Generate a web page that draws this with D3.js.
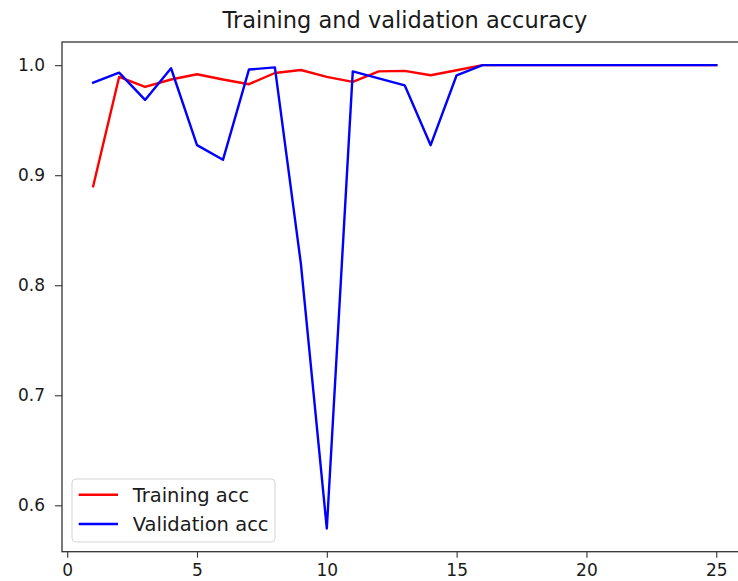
<!DOCTYPE html>
<html>
<head>
<meta charset="utf-8">
<script src="https://cdn.jsdelivr.net/npm/d3@7"></script>
<style>
	body { margin: 0; background: #fff; }
	svg { display: block; overflow: hidden; }
	text { font-family: "DejaVu Sans", sans-serif; fill: #1a1a1a; }
</style>
</head>
<body>
<svg id="chart" width="738" height="581"></svg>
<script>
	// epochs 1..25
	const epochs = d3.range(1, 26);
	const trainAcc = [0.890, 0.9893, 0.9802, 0.9870, 0.9917, 0.9870, 0.9827, 0.9929, 0.9956, 0.9893,
		0.9848, 0.9944, 0.9948, 0.9908, 0.9954, 1.0, 1.0, 1.0, 1.0, 1.0,
		1.0, 1.0, 1.0, 1.0, 1.0];
	const valAcc = [0.9841, 0.9932, 0.9684, 0.9972, 0.9273, 0.9140, 0.9960, 0.9980, 0.8198, 0.5789,
		0.9944, 0.9880, 0.9817, 0.9273, 0.9908, 1.0, 1.0, 1.0, 1.0, 1.0,
		1.0, 1.0, 1.0, 1.0, 1.0];
	const xTicks = [0, 5, 10, 15, 20, 25];
	const yTicks = [0.6, 0.7, 0.8, 0.9, 1.0];
	const seriesNames = ["Training acc", "Validation acc"];
	const seriesColors = ["#ff0000", "#0000ff"];

	const svg = d3.select("#chart");
	const margin = {left: 62, top: 42, right: 747.4, bottom: 551.7};

	// matplotlib style 5% padding around the data
	function padded(ext) {
		let p = (ext[1] - ext[0]) * 0.05;
		return [ext[0] - p, ext[1] + p];
	}

	const x = d3.scaleLinear()
		.domain(padded(d3.extent(epochs)))
		.range([margin.left, margin.right]);
	const y = d3.scaleLinear()
		.domain(padded(d3.extent(trainAcc.concat(valAcc))))
		.range([margin.bottom, margin.top]);

	svg.append("text")
		.attr("x", 405)
		.attr("y", 28)
		.attr("text-anchor", "middle")
		.style("font-size", "22.5px")
		.text("Training and validation accuracy");

	const series = [trainAcc, valAcc];
	const line = d3.line()
		.x((d, i) => x(epochs[i]))
		.y(d => y(d));

	svg.append("g")
		.selectAll("path")
		.data(series)
		.enter().append("path")
		.attr("d", line)
		.attr("fill", "none")
		.attr("stroke", (d, i) => seriesColors[i])
		.attr("stroke-width", 2.4)
		.attr("stroke-linejoin", "round")
		.attr("stroke-linecap", "square");

	// axes
	const xAxis = svg.append("g")
		.attr("transform", `translate(0,${margin.bottom})`)
		.call(d3.axisBottom(x).tickValues(xTicks).tickSize(6).tickPadding(3).tickFormat(d3.format("d")));
	const yAxis = svg.append("g")
		.attr("transform", `translate(${margin.left},0)`)
		.call(d3.axisLeft(y).tickValues(yTicks).tickSize(7).tickPadding(10).tickFormat(d3.format(".1f")));

	[xAxis, yAxis].forEach(a => {
		a.select(".domain").remove();
		a.selectAll(".tick line").attr("stroke", "#333").attr("stroke-width", 1.1);
		a.selectAll(".tick text").style("font-size", "17px").attr("fill", "#1a1a1a");
	});
	xAxis.selectAll(".tick text").attr("dy", "0.9em");

	// spines
	svg.append("rect")
		.attr("x", margin.left)
		.attr("y", margin.top)
		.attr("width", margin.right - margin.left)
		.attr("height", margin.bottom - margin.top)
		.attr("fill", "none")
		.attr("stroke", "#333")
		.attr("stroke-width", 1.3);

	// legend
	const legend = svg.append("g").attr("transform", "translate(72,479)");
	legend.append("rect")
		.attr("width", 203)
		.attr("height", 63)
		.attr("rx", 4)
		.attr("fill", "#fff")
		.attr("fill-opacity", 0.8)
		.attr("stroke", "#d5d5d5")
		.attr("stroke-width", 1);
	const item = legend.selectAll("g.item")
		.data(seriesNames)
		.enter().append("g")
		.attr("class", "item")
		.attr("transform", (d, i) => `translate(0,${15.7 + i * 29.3})`);
	item.append("line")
		.attr("x1", 6.7).attr("x2", 46)
		.attr("stroke", (d, i) => seriesColors[i])
		.attr("stroke-width", 2.4);
	item.append("text")
		.attr("x", 60.7)
		.attr("y", 7)
		.style("font-size", "19.5px")
		.text(d => d);
</script>
</body>
</html>
